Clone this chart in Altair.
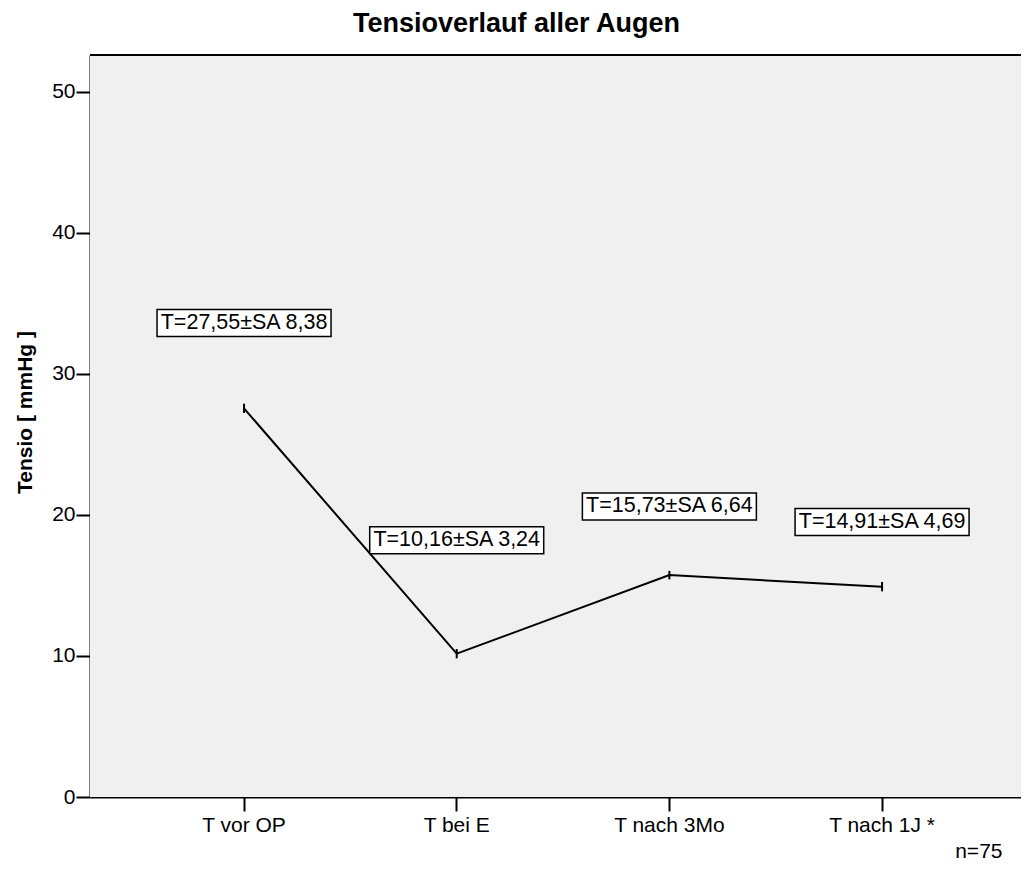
import altair as alt
import pandas as pd

categories = ["T vor OP", "T bei E", "T nach 3Mo", "T nach 1J *"]
means = [27.55, 10.16, 15.73, 14.91]
err = [0.33, 0.33, 0.3, 0.33]
label_texts = ["T=27,55±SA 8,38", "T=10,16±SA 3,24", "T=15,73±SA 6,64", "T=14,91±SA 4,69"]
label_y = [33.6, 18.2, 20.6, 19.5]
y_ticks = [0, 10, 20, 30, 40, 50]
Y_MAX = 52.6

df = pd.DataFrame({
    "cat": categories,
    "mean": means,
    "lo": [m - e for m, e in zip(means, err)],
    "hi": [m + e for m, e in zip(means, err)],
    "lab": label_texts,
    "laby": label_y,
})

FONT = "Liberation Sans"
W, H = 931, 742

xscale = alt.Scale(type="band", domain=categories, paddingInner=0,
                   paddingOuter=0.1888, align=0.594)
yscale = alt.Scale(domain=[0, Y_MAX], nice=False, zero=True)

xaxis = alt.Axis(labelAngle=0, grid=False, tickSize=14, tickWidth=2, tickColor="black",
                 domainColor="black", domainWidth=2, labelPadding=3, labelFontSize=21,
                 labelColor="black", labelFont=FONT, title="n=75", titleFont=FONT,
                 titleFontSize=21, titleFontWeight="normal", titleColor="black",
                 titleX=912, titleY=60, titleAlign="right", titleBaseline="alphabetic")
yaxis = alt.Axis(values=y_ticks, grid=False, tickSize=14, tickWidth=2, tickColor="black",
                 domainColor="black", domainWidth=2, labelPadding=1, labelFontSize=21,
                 labelColor="black", labelFont=FONT, title="Tensio [ mmHg ]",
                 titleFont=FONT, titleFontSize=21, titleFontWeight="bold",
                 titleColor="black", titleX=-65, titleY=357, titleAngle=270,
                 titleAlign="center", titleBaseline="middle")

X = alt.X("cat:N", scale=xscale, axis=xaxis, sort=categories)

bg = alt.Chart(df).mark_rect(color="#f0f0f0").encode(
    x=alt.value(0), x2=alt.value("width"), y=alt.value(0), y2=alt.value("height"))

line = alt.Chart(df).mark_line(color="black", strokeWidth=2).encode(
    x=X, y=alt.Y("mean:Q", scale=yscale, axis=yaxis))

bars = alt.Chart(df).mark_rule(color="black", strokeWidth=2).encode(
    x=X, y=alt.Y("lo:Q", scale=yscale, axis=yaxis), y2="hi:Q")

box_path = "M-1,-0.155L1,-0.155L1,0.155L-1,0.155Z"
boxes = alt.Chart(df).mark_point(shape=box_path, size=174 * 174, filled=False,
                                 fill="white", fillOpacity=1, stroke="black",
                                 strokeWidth=1.5, opacity=1).encode(
    x=X, y=alt.Y("laby:Q", scale=yscale, axis=yaxis))

texts = alt.Chart(df).mark_text(font=FONT, fontSize=21.5, color="black",
                                align="center", baseline="middle").encode(
    x=X, y=alt.Y("laby:Q", scale=yscale, axis=yaxis), text="lab:N")

top = alt.Chart(df).mark_rule(color="black", strokeWidth=2).encode(
    y=alt.datum(Y_MAX, scale=yscale, axis=yaxis))

chart = alt.layer(bg, line, bars, boxes, texts, top).properties(
    width=W, height=H,
    autosize=alt.AutoSizeParams(type="none"),
    padding={"left": 82, "top": 47, "right": 0, "bottom": 65},
    title=alt.TitleParams("Tensioverlauf aller Augen", font=FONT, fontSize=27,
                          fontWeight="bold", color="black", offset=-5, dx=-39,
                          baseline="alphabetic", anchor="middle"),
).configure_view(stroke=None, fill="#f0f0f0")

chart.save("out.html", embed_options={"renderer": "svg", "actions": False})
